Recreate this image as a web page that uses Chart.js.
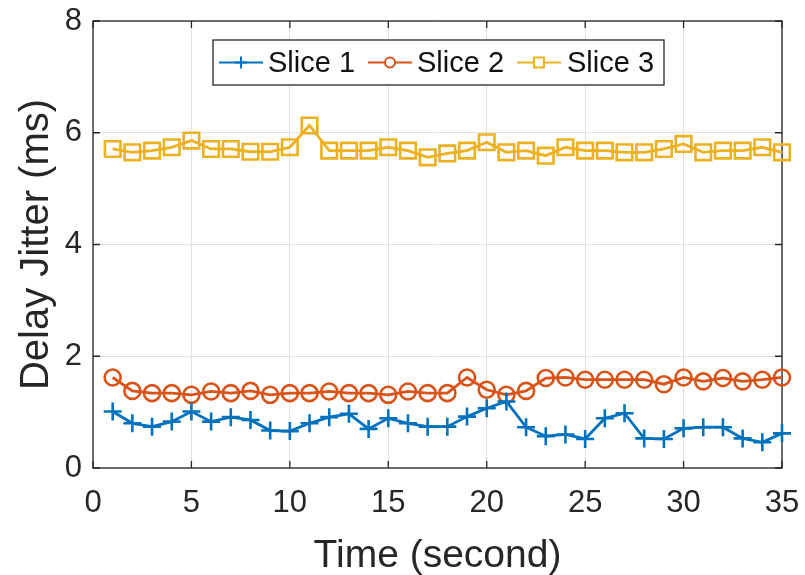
<!DOCTYPE html>
<html lang="en">
<head>
<meta charset="UTF-8">
<title>Delay Jitter</title>
<script src="https://cdn.jsdelivr.net/npm/chart.js"></script>
<style>
  html, body { margin: 0; padding: 0; background: #fff; }
  #wrap { width: 805px; height: 575px; }
</style>
</head>
<body>
<div id="wrap"><canvas id="jitterChart" width="805" height="575"></canvas></div>
<script>
// time axis (seconds)
const times = [1, 2, 3, 4, 5, 6, 7, 8, 9, 10, 11, 12, 13, 14, 15, 16, 17, 18,
               19, 20, 21, 22, 23, 24, 25, 26, 27, 28, 29, 30, 31, 32, 33, 34, 35];

// delay jitter (ms)
const slice1 = [1.01, 0.80, 0.74, 0.83, 1.01, 0.83, 0.91, 0.86, 0.67, 0.66, 0.80, 0.91,
                0.97, 0.70, 0.89, 0.80, 0.74, 0.74, 0.92, 1.07, 1.19, 0.73, 0.57, 0.60,
                0.52, 0.89, 0.98, 0.53, 0.52, 0.71, 0.73, 0.73, 0.53, 0.46, 0.62];
const slice2 = [1.62, 1.38, 1.34, 1.34, 1.31, 1.37, 1.34, 1.38, 1.31, 1.34, 1.34, 1.37,
                1.34, 1.34, 1.31, 1.37, 1.34, 1.34, 1.62, 1.40, 1.31, 1.38, 1.61, 1.62,
                1.58, 1.58, 1.58, 1.58, 1.50, 1.62, 1.55, 1.61, 1.55, 1.58, 1.62];
const slice3 = [5.71, 5.65, 5.68, 5.74, 5.86, 5.71, 5.71, 5.66, 5.66, 5.74, 6.13, 5.68,
                5.68, 5.68, 5.74, 5.68, 5.56, 5.63, 5.68, 5.83, 5.65, 5.68, 5.59, 5.74,
                5.68, 5.68, 5.65, 5.65, 5.71, 5.80, 5.65, 5.68, 5.68, 5.74, 5.65];

const xTicks = [0, 5, 10, 15, 20, 25, 30, 35];
const yTicks = [0, 2, 4, 6, 8];

const FONT = 'Liberation Sans, Arial, Helvetica, sans-serif';
const AXIS_COLOR = '#262626';

function toPoints(values) {
    return times.map((t, i) => ({ x: t, y: values[i] }));
}

function series(label, values, color, style, radius) {
    return {
        label: label,
        data: toPoints(values),
        borderColor: color,
        backgroundColor: 'rgba(0,0,0,0)',
        borderWidth: 2.8,
        pointStyle: style,
        pointRadius: radius,
        pointBorderWidth: 2.6,
        pointBorderColor: color,
        pointBackgroundColor: 'rgba(0,0,0,0)',
        tension: 0,
        clip: false
    };
}

// box around the plot + inward tick marks (matlab look)
const frame = {
    id: 'frame',
    beforeDatasetsDraw(chart) {
        const ctx = chart.ctx;
        const a = chart.chartArea;
        const xs = chart.scales.x, ys = chart.scales.y;
        ctx.save();
        ctx.strokeStyle = AXIS_COLOR;
        ctx.lineWidth = 1.3;
        ctx.strokeRect(a.left, a.top, a.right - a.left, a.bottom - a.top);
        xTicks.forEach(v => {
            const px = xs.getPixelForValue(v);
            ctx.beginPath();
            ctx.moveTo(px, a.bottom); ctx.lineTo(px, a.bottom - 7);
            ctx.moveTo(px, a.top); ctx.lineTo(px, a.top + 7);
            ctx.stroke();
        });
        yTicks.forEach(v => {
            const py = ys.getPixelForValue(v);
            ctx.beginPath();
            ctx.moveTo(a.left, py); ctx.lineTo(a.left + 7, py);
            ctx.moveTo(a.right, py); ctx.lineTo(a.right - 7, py);
            ctx.stroke();
        });
        ctx.restore();
    }
};

// legend box drawn inside the plot, like the original figure
const boxLegend = {
    id: 'boxLegend',
    afterDraw(chart) {
        const ctx = chart.ctx;
        const box = { left: 213, top: 40, width: 451, height: 45 };
        const items = [
            { lx: 219, tx: 268 },
            { lx: 368, tx: 417 },
            { lx: 517, tx: 567 }
        ];
        const sizes = [6, 5, 7];
        ctx.save();
        ctx.fillStyle = '#fff';
        ctx.fillRect(box.left, box.top, box.width, box.height);
        ctx.strokeStyle = AXIS_COLOR;
        ctx.lineWidth = 1.3;
        ctx.strokeRect(box.left, box.top, box.width, box.height);
        const cy = box.top + box.height / 2;
        chart.data.datasets.forEach((ds, i) => {
            const it = items[i];
            ctx.strokeStyle = ds.borderColor;
            ctx.lineWidth = 2;
            ctx.beginPath();
            ctx.moveTo(it.lx, cy);
            ctx.lineTo(it.lx + 44, cy);
            ctx.stroke();
            ctx.fillStyle = '#fff';
            Chart.helpers.drawPoint(ctx, {
                pointStyle: ds.pointStyle,
                radius: sizes[i],
                rotation: 0,
                borderWidth: 2
            }, it.lx + 22, cy);
            ctx.fillStyle = '#111';
            ctx.font = '29px ' + FONT;
            ctx.textBaseline = 'middle';
            ctx.textAlign = 'left';
            ctx.fillText(ds.label, it.tx, cy + 1);
        });
        ctx.restore();
    }
};

const ctx = document.getElementById('jitterChart').getContext('2d');
new Chart(ctx, {
    type: 'line',
    data: {
        datasets: [
            series('Slice 1', slice1, '#0072BD', 'cross', 9),
            series('Slice 2', slice2, '#D95319', 'circle', 8),
            series('Slice 3', slice3, '#EDB120', 'rect', 11)
        ]
    },
    options: {
        responsive: false,
        animation: false,
        layout: { padding: { top: 21, right: 23, left: 0, bottom: 0 } },
        plugins: {
            legend: { display: false },
            tooltip: { enabled: false }
        },
        scales: {
            x: {
                type: 'linear',
                min: 0,
                max: 35,
                afterFit(scale) {
                    scale.height = 107;
                    scale.paddingLeft = 0;
                    scale.paddingRight = 0;
                },
                afterBuildTicks(scale) { scale.ticks = xTicks.map(v => ({ value: v })); },
                grid: { color: '#e0e0e0', lineWidth: 1, drawTicks: false },
                border: { display: false },
                ticks: {
                    color: AXIS_COLOR,
                    font: { family: FONT, size: 31 },
                    padding: 17,
                    maxRotation: 0
                },
                title: {
                    display: true,
                    text: 'Time (second)',
                    color: AXIS_COLOR,
                    font: { family: FONT, size: 39 },
                    padding: { top: 0, bottom: -5 }
                }
            },
            y: {
                min: 0,
                max: 8,
                afterFit(scale) {
                    scale.width = 93;
                    scale.paddingTop = 0;
                    scale.paddingBottom = 0;
                },
                afterBuildTicks(scale) { scale.ticks = yTicks.map(v => ({ value: v })); },
                grid: { color: '#e0e0e0', lineWidth: 1, drawTicks: false },
                border: { display: false },
                ticks: {
                    color: AXIS_COLOR,
                    font: { family: FONT, size: 31 },
                    padding: 11
                },
                title: {
                    display: true,
                    text: 'Delay Jitter (ms)',
                    color: AXIS_COLOR,
                    font: { family: FONT, size: 40 },
                    padding: { top: 13, bottom: 0 }
                }
            }
        }
    },
    plugins: [frame, boxLegend]
});
</script>
</body>
</html>
